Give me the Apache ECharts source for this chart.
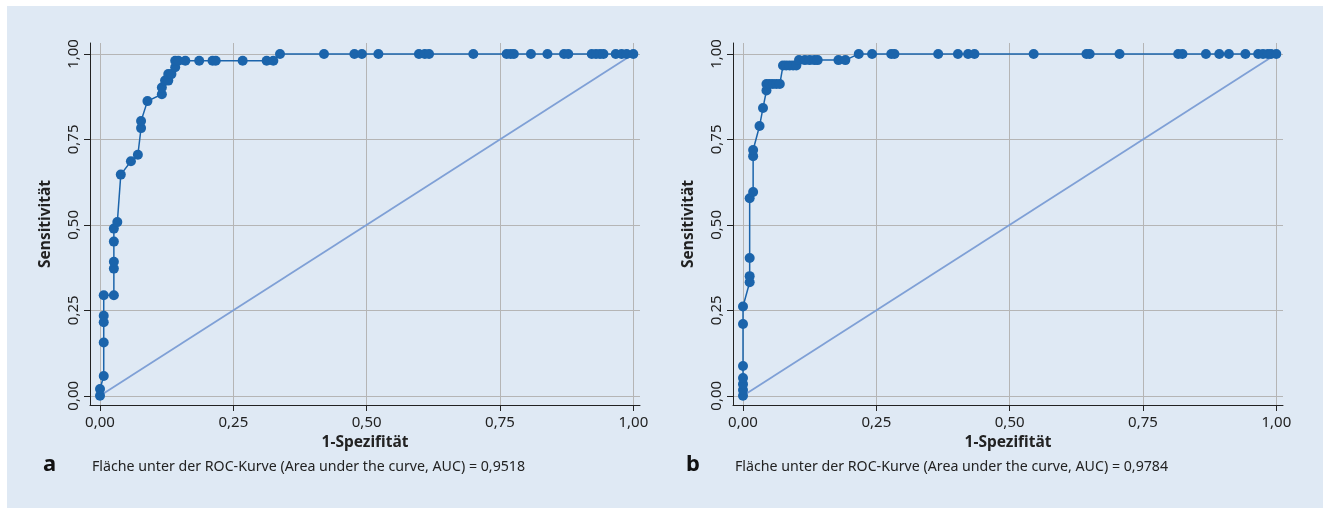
<!DOCTYPE html>
<html>
<head>
<meta charset="utf-8">
<script src="https://cdn.jsdelivr.net/npm/echarts@6/dist/echarts.min.js"></script>
<style>
html, body { margin: 0; padding: 0; background: #fff; }
#chart { width: 1323px; height: 508px; }
</style>
</head>
<body>
<div id="chart"></div>
<script>
// ROC a: 1-Spezifitaet / Sensitivitaet
var rocA_x = [0, 0, 0.007, 0.007, 0.007, 0.007, 0.007, 0.026, 0.026, 0.026, 0.026, 0.026, 0.0325, 0.039, 0.058, 0.071, 0.077, 0.077, 0.089, 0.116, 0.116, 0.122, 0.128, 0.128, 0.134, 0.141, 0.141, 0.147, 0.16, 0.186, 0.211, 0.217, 0.2675, 0.3125, 0.325,
	0.3375, 0.42, 0.477, 0.491, 0.522, 0.598, 0.609, 0.617, 0.70, 0.7625, 0.77, 0.776, 0.808, 0.839, 0.87, 0.878, 0.922, 0.93, 0.9375, 0.944, 0.967, 0.978, 0.9875, 1];
var rocA_y = [0, 0.02, 0.058, 0.156, 0.215, 0.234, 0.294, 0.294, 0.372, 0.392, 0.451, 0.489, 0.508, 0.647, 0.686, 0.705, 0.783, 0.804, 0.862, 0.882, 0.902, 0.922, 0.922, 0.941, 0.941, 0.961, 0.98, 0.98, 0.98, 0.98, 0.98, 0.98, 0.98, 0.98, 0.98,
	1, 1, 1, 1, 1, 1, 1, 1, 1, 1, 1, 1, 1, 1, 1, 1, 1, 1, 1, 1, 1, 1, 1, 1];
// ROC b
var rocB_x = [0, 0, 0, 0, 0, 0, 0, 0.0125, 0.0125, 0.0125, 0.0125, 0.019, 0.019, 0.019, 0.031, 0.0375, 0.044, 0.044, 0.05, 0.056, 0.0625, 0.069, 0.075, 0.081, 0.0875, 0.094, 0.1, 0.105, 0.116, 0.125, 0.134, 0.14, 0.179, 0.192,
	0.217, 0.242, 0.278, 0.284, 0.366, 0.403, 0.422, 0.434, 0.545, 0.644, 0.65, 0.706, 0.816, 0.824, 0.868, 0.893, 0.911, 0.942, 0.966, 0.975, 0.984, 0.99, 1];
var rocB_y = [0, 0.017, 0.034, 0.052, 0.087, 0.21, 0.261, 0.332, 0.35, 0.403, 0.578, 0.596, 0.701, 0.719, 0.789, 0.842, 0.893, 0.912, 0.912, 0.912, 0.912, 0.912, 0.966, 0.966, 0.966, 0.966, 0.966, 0.982, 0.982, 0.982, 0.982, 0.982, 0.982, 0.982,
	1, 1, 1, 1, 1, 1, 1, 1, 1, 1, 1, 1, 1, 1, 1, 1, 1, 1, 1, 1, 1, 1, 1];
var diagonal = [[0, 0], [1, 1]];
var tickValues = [0, 0.25, 0.5, 0.75, 1];
var tickLabels = ['0,00', '0,25', '0,50', '0,75', '1,00'];
var captions = ['Fläche unter der ROC-Kurve (Area under the curve, AUC) = 0,9518',
	'Fläche unter der ROC-Kurve (Area under the curve, AUC) = 0,9784'];
var panelLetters = ['a', 'b'];

var FONT = 'Noto Sans';
var dotColor = '#1b64ab';
var diagColor = '#7fa0d6';
var bg = '#dfe9f4';

function pairs(xs, ys) {
	var out = [];
	for (var i = 0; i < xs.length; i++) {
		out.push([xs[i], ys[i]]);
	}
	return out;
}
function fmt(v) {
	var i = tickValues.indexOf(Math.round(v * 100) / 100);
	return i >= 0 ? tickLabels[i] : '';
}

function xAxisFor(idx) {
	return {
		gridIndex: idx, type: 'value', min: -0.01875, max: 1.0125,
		name: '1-Spezifität', nameLocation: 'middle', nameGap: 26,
		nameTextStyle: { fontFamily: FONT, fontWeight: 'bold', fontSize: 15.5, color: '#222' },
		axisLine: { show: true, onZero: false, lineStyle: { color: '#222', width: 1 } },
		axisTick: { show: true, length: 6, customValues: tickValues, lineStyle: { color: '#222' } },
		axisLabel: { customValues: tickValues, formatter: fmt, margin: 10, fontFamily: FONT, fontSize: 15, color: '#222' },
		splitLine: { show: true, lineStyle: { color: '#b5b5b5', width: 1 } }
	};
}
function yAxisFor(idx) {
	return {
		gridIndex: idx, type: 'value', min: -0.027, max: 1.032,
		name: 'Sensitivität', nameLocation: 'middle', nameGap: 36,
		nameTextStyle: { fontFamily: FONT, fontWeight: 'bold', fontSize: 15.5, color: '#222' },
		axisLine: { show: true, onZero: false, lineStyle: { color: '#222', width: 1 } },
		axisTick: { show: true, length: 6, customValues: tickValues, lineStyle: { color: '#222' } },
		axisLabel: { customValues: tickValues, formatter: fmt, rotate: 90, margin: 9, fontFamily: FONT, fontSize: 15, color: '#222' },
		splitLine: { show: true, lineStyle: { color: '#b5b5b5', width: 1 } }
	};
}
function curve(idx, data) {
	return {
		type: 'line', xAxisIndex: idx, yAxisIndex: idx, data: data,
		symbol: 'circle', symbolSize: 10, showSymbol: true,
		lineStyle: { color: dotColor, width: 1.5 },
		itemStyle: { color: dotColor }, z: 4, animation: false
	};
}
function diag(idx) {
	return {
		type: 'line', xAxisIndex: idx, yAxisIndex: idx, data: diagonal,
		symbol: 'none', lineStyle: { color: diagColor, width: 1.8 }, z: 3, animation: false
	};
}

var chart = echarts.init(document.getElementById('chart'), null, { renderer: 'canvas' });
chart.setOption({
	backgroundColor: '#ffffff',
	animation: false,
	graphic: { elements: [{
		type: 'rect', z: -100, silent: true,
		shape: { x: 7, y: 6, width: 1316, height: 502 },
		style: { fill: bg }
	}] },
	title: [
		{ text: panelLetters[0], left: 43, top: 454, padding: 0, textStyle: { fontFamily: FONT, fontWeight: 'bold', fontSize: 22, color: '#111' } },
		{ text: captions[0], left: 92, top: 460, padding: 0, textStyle: { fontFamily: FONT, fontWeight: 'normal', fontSize: 14.2, color: '#222' } },
		{ text: panelLetters[1], left: 686, top: 454, padding: 0, textStyle: { fontFamily: FONT, fontWeight: 'bold', fontSize: 22, color: '#111' } },
		{ text: captions[1], left: 735, top: 460, padding: 0, textStyle: { fontFamily: FONT, fontWeight: 'normal', fontSize: 14.2, color: '#222' } }
	],
	grid: [
		{ left: 90, top: 43, width: 550, height: 362 },
		{ left: 733, top: 43, width: 550, height: 362 }
	],
	xAxis: [xAxisFor(0), xAxisFor(1)],
	yAxis: [yAxisFor(0), yAxisFor(1)],
	series: [
		diag(0), curve(0, pairs(rocA_x, rocA_y)),
		diag(1), curve(1, pairs(rocB_x, rocB_y))
	]
});
</script>
</body>
</html>
